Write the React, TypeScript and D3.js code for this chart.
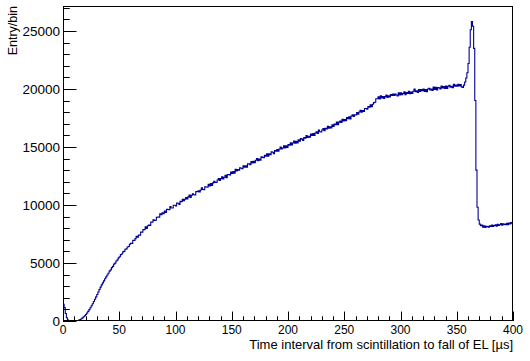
import React from 'react';
import * as d3 from 'd3';

// histogram: 1 µs bins from 0 to 400 µs (entries per bin)
const binWidth = 1;
const counts = [
  1450, 1150, 650, 280, 90, 25, 5, 0, 0, 0,
  0, 5, 20, 45, 85, 130, 190, 270, 360, 450,
  560, 690, 830, 980, 1140, 1310, 1490, 1680, 1880, 2080,
  2290, 2500, 2710, 2920, 3110, 3290, 3460, 3640, 3800, 3960,
  4120, 4300, 4410, 4600, 4710, 4900, 4990, 5170, 5270, 5440,
  5540, 5720, 5770, 5960, 6000, 6180, 6220, 6380, 6420, 6610,
  6700, 6694, 6958, 6942, 7096, 7290, 7224, 7418, 7402, 7656,
  7650, 7873, 7866, 8109, 7982, 8205, 8268, 8231, 8534, 8507,
  8730, 8670, 8680, 8940, 8970, 8950, 9250, 9160, 9330, 9250,
  9480, 9360, 9630, 9610, 9590, 9870, 9740, 9740, 9980, 9980,
  9910, 10170, 10150, 10040, 10310, 10280, 10490, 10360, 10490, 10630,
  10520, 10696, 10852, 10658, 10844, 10970, 10876, 10862, 11148, 11134,
  11230, 11115, 11290, 11475, 11330, 11315, 11570, 11555, 11530, 11775,
  11650, 11853, 11676, 11909, 12042, 11945, 11938, 12151, 12284, 12107,
  12270, 12422, 12254, 12386, 12558, 12350, 12612, 12624, 12586, 12848,
  12720, 12890, 12730, 13070, 12940, 13060, 13000, 13200, 13170, 13130,
  13370, 13249, 13378, 13257, 13546, 13545, 13464, 13733, 13622, 13771,
  13650, 13858, 13996, 13824, 13952, 13850, 14148, 14106, 14074, 14272,
  14200, 14417, 14214, 14421, 14338, 14585, 14542, 14419, 14696, 14633,
  14780, 14625, 14830, 14985, 14820, 14915, 15090, 14925, 15090, 14965,
  15210, 15152, 15364, 15176, 15338, 15510, 15322, 15484, 15356, 15618,
  15500, 15723, 15676, 15569, 15822, 15765, 15988, 15811, 15924, 15847,
  16120, 15992, 16154, 15986, 16198, 16310, 16162, 16454, 16316, 16298,
  16460, 16594, 16398, 16612, 16556, 16790, 16614, 16748, 16642, 16906,
  16770, 16976, 16922, 17138, 16924, 17140, 17236, 17122, 17388, 17234,
  17370, 17258, 17546, 17444, 17592, 17410, 17668, 17776, 17634, 17782,
  17760, 17973, 17816, 18019, 18162, 17995, 18138, 18051, 18314, 18317,
  18260, 18490, 18420, 18640, 18480, 18680, 18820, 18850, 19160, 19160,
  19320, 19135, 19410, 19235, 19350, 19175, 19340, 19475, 19270, 19405,
  19320, 19525, 19440, 19555, 19440, 19555, 19480, 19395, 19660, 19475,
  19670, 19505, 19610, 19755, 19500, 19695, 19620, 19795, 19590, 19735,
  19610, 19806, 19982, 19758, 19834, 19690, 19946, 19792, 19958, 19854,
  20000, 19795, 19940, 19765, 20000, 20065, 19910, 19985, 19880, 20155,
  19950, 20134, 19918, 20122, 20096, 20000, 20254, 20078, 20212, 20036,
  20250, 20033, 20236, 20319, 20152, 20235, 20118, 20411, 20234, 20347,
  20230, 20400, 20250, 20380, 20180, 20120, 20330, 20600, 20950, 21400,
  22200, 23600, 25100, 25800, 25400, 23500, 19000, 13000, 9800, 8700,
  8350, 8220, 8260, 8090, 8200, 8060, 8170, 8130, 8080, 8210,
  8140, 8260, 8150, 8230, 8290, 8180, 8330, 8240, 8300, 8390,
  8260, 8380, 8330, 8300, 8420, 8310, 8440, 8360, 8480, 8430,
];

const xDomain = [0, 400];
const yDomain = [0, 27150];
const xTitle = 'Time interval from scintillation to fall of EL [\u00b5s]';
const yTitle = 'Entry/bin';

const W = 530;
const H = 361;
const left = 63;
const right = 513;
const top = 6;
const bottom = 321;

const font = "'Liberation Sans', Arial, Helvetica, sans-serif";

export default function App() {
  const x = d3.scaleLinear().domain(xDomain).range([left, right]);
  const y = d3.scaleLinear().domain(yDomain).range([bottom, top]);

  const pts: [number, number][] = counts.map((c, i) => [i * binWidth, c]);
  pts.push([counts.length * binWidth, counts[counts.length - 1]]);

  const line = d3.line<[number, number]>()
    .x(d => x(d[0]))
    .y(d => y(d[1]))
    .curve(d3.curveStepAfter);

  const yMajor = d3.range(0, yDomain[1], 5000);
  const yMinor = d3.range(0, yDomain[1], 1000);
  const xMajor = d3.range(0, 401, 50);
  const xMinor = d3.range(0, 401, 10);

  const yTickLen = 0.03 * (right - left);
  const xTickLen = 0.03 * (bottom - top);

  return (
    <svg width={W} height={H} style={{ position: 'absolute', left: 0, top: 0, background: '#fff' }}>
      <rect x={0} y={0} width={W} height={H} fill="#fff" />
      <defs>
        <clipPath id="frame">
          <rect x={left} y={top} width={right - left} height={bottom - top} />
        </clipPath>
      </defs>

      <path d={line(pts) || ''} fill="none" stroke="#000099" strokeWidth={1.1} clipPath="url(#frame)" />

      {/* frame */}
      <rect x={left + 0.5} y={top + 0.5} width={right - left - 1} height={bottom - top - 1}
        fill="none" stroke="#000" strokeWidth={1} />

      {/* y axis ticks */}
      {yMinor.map(v => (
        <line key={'ym' + v} x1={left} x2={left + (v % 5000 === 0 ? yTickLen : yTickLen / 2)}
          y1={Math.round(y(v)) + 0.5} y2={Math.round(y(v)) + 0.5} stroke="#000" />
      ))}
      {yMajor.map(v => (
        <text key={'yl' + v} x={60} y={y(v)} dy="0.35em" textAnchor="end"
          fontFamily={font} fontSize={13.5} fill="#000">{v}</text>
      ))}

      {/* x axis ticks */}
      {xMinor.map(v => (
        <line key={'xm' + v} x1={Math.round(x(v)) + 0.5} x2={Math.round(x(v)) + 0.5}
          y1={bottom} y2={bottom - (v % 50 === 0 ? xTickLen : xTickLen / 2)} stroke="#000" />
      ))}
      {xMajor.map(v => (
        <text key={'xl' + v} x={x(v)} y={333.5} textAnchor="middle"
          fontFamily={font} fontSize={12} fill="#000">{v}</text>
      ))}

      <text x={right} y={348.5} textAnchor="end" fontFamily={font} fontSize={13} fill="#000">{xTitle}</text>
      <text transform={`translate(16.5,${top}) rotate(-90)`} textAnchor="end"
        fontFamily={font} fontSize={12.5} fill="#000">{yTitle}</text>
    </svg>
  );
}
